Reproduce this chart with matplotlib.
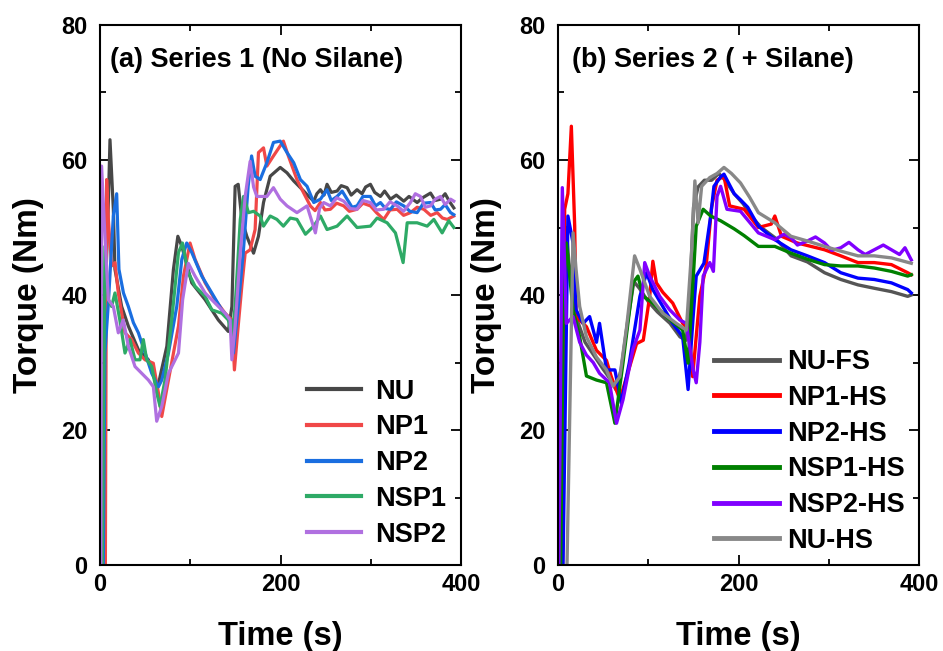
import matplotlib
matplotlib.use("Agg")
import matplotlib.pyplot as plt
from matplotlib.ticker import MultipleLocator

plt.rcParams["font.family"] = ["Liberation Sans", "DejaVu Sans"]
plt.rcParams["font.weight"] = "bold"

# ---- Series 1 (No Silane) ----
t_nu = [3, 6, 9.3, 11.1, 14.8, 16.6, 24, 31.4, 42.5, 53.6, 64, 74, 81.3, 86.2, 90.6, 101.6, 116.4, 131,
        142, 146, 149.6, 153, 157, 162.5, 170, 175.4, 181, 188.4, 199.5, 207, 214.4, 225.5, 231, 236.6, 240,
        244, 248, 251.3, 256, 262.4, 267, 273.5, 278, 284.5, 290, 294, 299.3, 304, 310.4, 315, 321.5, 328,
        336.2, 342, 351, 357, 365.8, 371, 376.9, 382, 387, 391.6]
v_nu = [0, 40, 53.7, 63, 52.7, 43.8, 38.3, 35.4, 31.9, 30.4, 26.4, 32.4, 43.8, 48.7, 47.2, 41.8, 39.3, 36.3,
        34.6, 38.3, 56.1, 56.4, 51.2, 48.7, 46.2, 48.7, 53.7, 57.6, 58.9, 58.1, 56.9, 55.4, 54.6, 53.9, 55,
        55.6, 54.8, 56.4, 55.2, 55.4, 56.2, 55.9, 54.8, 55.6, 55, 56, 56.4, 55.2, 54.6, 55.4, 54.2, 54.8,
        53.9, 54.6, 53.7, 54.4, 55.1, 54, 54.2, 55, 53.8, 52.9]

t_np1 = [6, 7.4, 9.3, 12.9, 16.6, 20.3, 27.7, 35, 42.5, 49.9, 59, 64.7, 68.4, 75.8, 86.9, 92.4, 99.7, 105.2,
         116.4, 127.4, 138.5, 146, 148.8, 153, 157, 160.7, 166.2, 171.7, 175.4, 181, 184.7, 192, 203,
         208.5, 218, 225.5, 232.8, 238, 244, 249, 255, 262, 269.8, 276, 284.5, 291, 299.3, 306, 314.1,
         321, 328.9, 336, 343.6, 351, 358.4, 366, 373.2, 379, 384.3, 391.6]
v_np1 = [0, 57.1, 51.2, 44.3, 44.8, 40.3, 34.4, 33.4, 31.4, 30.4, 29.9, 25.5, 22, 27.4, 35.4, 42.8, 47.7, 45.3,
         41.8, 39.3, 37.3, 36.3, 28.9, 35.4, 41.3, 46.2, 46.7, 49.7, 61.1, 61.8, 59.1, 60.6, 62.8,
         60.6, 57.1, 55.1, 53.2, 52.5, 53.7, 52.6, 52.7, 53.6, 53.2, 52.4, 52.7, 53.6, 53.2, 52.2, 51.2,
         52.6, 52.7, 51.8, 52.2, 53, 52.7, 51.8, 52.2, 51.4, 51.2, 51.7]

t_np2 = [3.7, 5.5, 9.3, 14.8, 18.5, 21, 26, 31.4, 37, 42.5, 50, 57.3, 64.7, 68.4, 75.8, 85, 90.6, 96, 101.6,
         112.7, 123.8, 134.8, 144, 147.7, 153, 158.6, 164, 167.8, 171.7, 177.3, 184.7, 192, 199.5, 207,
         214.4, 221.8, 229.2, 236.6, 244, 251.3, 256, 262.4, 268, 273.5, 279, 284.5, 291, 299.3, 305,
         310.4, 316, 321.5, 328, 336.2, 343, 351, 358, 365.8, 371, 376.9, 382, 388, 391.6]
v_np2 = [0, 31.4, 38.8, 51.7, 55, 43.8, 40.3, 38.3, 35.9, 34.4, 31.4, 28.4, 26.4, 27.4, 31.4, 38.3, 45.3, 47.7, 46.3,
         42.8, 40.3, 37.8, 36.3, 31.4, 38.3, 46.3, 56.1, 60.6, 57.6, 57.1, 59.6, 62.6, 62.8, 61.1,
         59.6, 57.1, 56.1, 53.7, 54.2, 55.6, 54, 54.6, 55.4, 54.2, 53, 53.2, 54.6, 54.6, 53.2,
         53.7, 52.8, 52.7, 53.8, 53.2, 52.4, 52.2, 53.6, 53.7, 52.6, 52.7, 53.4, 52.2, 51.9]

t_nsp1 = [2.6, 5.5, 9.3, 12.9, 16.6, 22, 27.7, 33.2, 38.8, 44.3, 48, 51.7, 57.3, 62.8, 66.5, 72, 79.4, 86.9,
          91.3, 97.8, 105.2, 116.4, 123.8, 134.8, 142, 146, 149.6, 155.3, 158.9, 164.4, 170, 177.3, 181,
          188.4, 195.8, 203, 210.6, 218, 227.4, 236.6, 244, 251.3, 262.4, 273.5, 284.5, 299.3, 306.7,
          317.8, 327, 335.5, 340, 351, 362.1, 369.5, 378.7, 386, 391.6]
v_nsp1 = [0, 47.2, 39.3, 38.3, 40.3, 36.3, 31.4, 33.4, 30.4, 30.4, 33.4, 30.4, 29.4, 25.5, 23.5, 27.4, 36.3, 46.3,
          47.7, 43.3, 41.3, 39.8, 37.8, 37.3, 36.3, 33.8, 38.3, 51.2, 54.6, 52.2, 52.4, 51.7, 50.2,
          51.7, 51.2, 50.2, 51.4, 51.2, 49, 50.2, 51.7, 49.7, 50.2, 51.7, 50, 50.2, 51.4,
          50.7, 49.2, 44.8, 50.7, 50.7, 50.2, 51.2, 49.2, 51, 50]

t_nsp2 = [1, 1.8, 5.5, 9.3, 14.8, 20.3, 25.8, 31.4, 38.8, 46.2, 53.6, 59.1, 62.8, 68.4, 75.8, 86.9, 91.5, 97.8,
          105.2, 116.4, 127.4, 138.5, 144, 146, 149.6, 155.3, 160.7, 166.2, 170, 173.6, 184.7, 192, 199.5,
          207, 218, 229.2, 238.4, 243, 247.6, 255, 262, 269.8, 277, 284.5, 291, 299.3, 306, 314.1, 321,
          328.9, 336, 343.6, 349, 354.7, 360, 365.8, 371, 376.9, 382, 388, 391.6]
v_nsp2 = [0, 59.1, 48.7, 39.3, 38.3, 34.4, 36.3, 32.4, 29.4, 28.4, 27.4, 26.4, 21.3, 23.5, 28.4, 31.4, 39.3, 44.7,
          42.8, 40.3, 38.8, 37.3, 36.3, 30.4, 35.4, 46.3, 54.6, 59.8, 56, 54.6, 54.6, 55.9, 54.2,
          53.2, 52.2, 53.2, 49.2, 52.8, 53.7, 53.2, 54.4, 53.9, 52.8, 52.7, 54, 53.7, 52.6, 52.7, 53.8,
          53.2, 52.4, 53.7, 55, 54.6, 53, 53.2, 54.2, 54.6, 53.4, 54.2, 53.9]

# ---- Series 2 (+ Silane) ----
t_nufs = [3, 6, 9, 12, 16, 22, 30, 40, 50, 58, 64, 70, 77, 84, 90, 100, 110, 124, 135, 142, 146, 150, 155,
          162, 170, 178, 185, 195, 205, 215, 225, 240, 258, 276, 295, 313, 332, 350, 369, 387, 391]
v_nufs = [0, 45, 50, 45, 40, 36, 33, 31, 29, 27.5, 26, 29, 36, 42, 41, 39, 37.5, 35.8, 33.8, 33.3, 40, 53, 56,
          57, 57, 58, 57, 55, 53.5, 51.5, 50, 48.5, 45.8, 44.9, 43.3, 42.3, 41.5, 41, 40.5, 39.8, 40]

t_np1hs = [5, 7.4, 11, 14.8, 18.5, 20, 31.5, 42.6, 53.7, 59, 68.5, 76, 87, 94.4, 101.5, 105, 108.9, 116, 127,
           138, 145.2, 149, 157, 164, 170, 176, 183.7, 190, 206, 221.8, 236, 240, 247.4, 265, 295, 313,
           332, 350, 369, 387, 391]
v_np1hs = [0, 52.7, 55, 65, 50.2, 36.8, 35.3, 31.8, 30.3, 27.9, 24.5, 27.9, 32.8, 33.3, 39.8, 45, 41.8, 40.4, 38.8,
           35.8, 34.8, 27.9, 39.8, 44.3, 53, 57, 57.6, 53.2, 52.7, 50, 50.5, 51.7, 48.7, 47.7, 46.7, 45.8,
           44.8, 44.8, 44.5, 43.3, 43]

t_np2hs = [5.6, 11, 16.7, 20, 27.8, 35, 42.6, 46, 53.7, 63, 70, 79, 90.7, 98, 105, 116, 127, 138, 144, 149.6,
           153, 161.5, 169, 172.6, 180, 183.7, 195, 202, 210, 221.8, 240, 257.8, 276, 295, 313, 332, 350,
           369, 387, 391]
v_np2hs = [0, 51.7, 47.7, 37.8, 35.8, 36.8, 33, 35.8, 28.9, 28.9, 24, 30, 39.8, 43.3, 40.8, 38.3, 35.8, 33.8, 26, 36.8,
           42.8, 44.7, 51.7, 56.1, 57.5, 57.9, 55, 54.1, 53, 50.2, 48.2, 46.7, 45.8, 44.8, 43.3, 42.5, 42.3,
           41.8, 40.8, 40.3]

t_nsp1hs = [3, 6, 9.3, 16.7, 24, 31.5, 42.6, 53.7, 63, 72, 83, 88.5, 94.4, 105, 120, 138, 144, 149.6, 153,
            160.7, 169, 180, 195, 206, 221.8, 240, 257.8, 276, 295, 313, 332, 350, 369, 387, 391]
v_nsp1hs = [0, 40, 47.7, 37.8, 33.8, 28, 27.4, 27, 21, 30, 41.8, 42.8, 39.8, 38.8, 36.8, 34.8, 29.9, 42.3, 50.2,
            52.7, 51.7, 51, 49.8, 48.8, 47.2, 47.2, 46.2, 45.3, 44.5, 44.3, 44.3, 44, 43.5, 42.8, 43]

t_nsp2hs = [1, 4.8, 9.3, 16.7, 24, 31.5, 39, 46, 57, 64.8, 72, 83, 90.7, 96, 101.5, 112.6, 123.7, 134.8, 142,
            149.6, 153, 157, 160.7, 168, 172, 176, 180, 187, 202, 221.8, 240, 250, 257.8, 265, 276, 285, 295,
            303, 313, 322, 332, 340, 350, 360, 369, 378, 384, 391]
v_nsp2hs = [0, 55.9, 35.8, 36.8, 33, 31.1, 30, 28.4, 27, 21, 24.5, 32, 34.8, 44.8, 42.8, 39.8, 37.8, 36.3, 35.8,
            28.9, 27, 33, 42.8, 44.8, 43.5, 54.6, 56.1, 52.7, 52.4, 49.2, 48.2, 49, 48.5, 47.4, 48, 48.6, 47.7,
            46.6, 47, 47.8, 46.7, 46, 46.7, 47.4, 46.7, 46, 47, 45.2]

t_nuhs = [10, 16.7, 20, 24, 31.5, 42.6, 53.7, 61, 68.5, 76, 84.8, 90.7, 101.5, 116, 131, 142, 148, 151.5, 155,
          159, 168, 176, 183.7, 192, 202, 212, 221.8, 240, 257.8, 276, 295, 313, 332, 350, 369, 391]
v_nuhs = [0, 49.2, 43.8, 38.3, 33.8, 30.8, 28.9, 26.5, 27.9, 35.3, 45.8, 43.8, 39.8, 37.3, 35.8, 34.8, 46.8, 56.9,
          50.7, 56.1, 57.4, 58, 58.9, 58, 56.6, 54.5, 52.2, 50.7, 48.7, 48, 47.2, 46.5, 45.8, 45.8, 45.5, 44.7]

series1 = [
    (t_nu, v_nu, "NU", "#474747"),
    (t_np1, v_np1, "NP1", "#f04848"),
    (t_np2, v_np2, "NP2", "#1a6ee0"),
    (t_nsp1, v_nsp1, "NSP1", "#2eaa66"),
    (t_nsp2, v_nsp2, "NSP2", "#b070e0"),
]
series2 = [
    (t_nufs, v_nufs, "NU-FS", "#555555"),
    (t_np1hs, v_np1hs, "NP1-HS", "#ff0000"),
    (t_np2hs, v_np2hs, "NP2-HS", "#0000ff"),
    (t_nsp1hs, v_nsp1hs, "NSP1-HS", "#008000"),
    (t_nsp2hs, v_nsp2hs, "NSP2-HS", "#8000ff"),
    (t_nuhs, v_nuhs, "NU-HS", "#888888"),
]

fig = plt.figure(figsize=(9.43, 6.51), dpi=100)
ax1 = fig.add_axes([0.106, 0.1321, 0.3833, 0.8295])
ax2 = fig.add_axes([0.5917, 0.1321, 0.3833, 0.8295])


def style_axis(ax):
    ax.set_xlim(0, 400)
    ax.set_ylim(0, 80)
    ax.xaxis.set_major_locator(MultipleLocator(200))
    ax.xaxis.set_minor_locator(MultipleLocator(100))
    ax.yaxis.set_major_locator(MultipleLocator(20))
    ax.yaxis.set_minor_locator(MultipleLocator(10))
    ax.tick_params(which="both", direction="in", top=True, right=True, width=1.3)
    ax.tick_params(which="major", length=7)
    ax.tick_params(which="minor", length=4.5)
    ax.tick_params(axis="y", which="major", labelsize=17, pad=9)
    ax.tick_params(axis="x", which="major", labelsize=17, pad=6)
    for sp in ax.spines.values():
        sp.set_linewidth(1.5)
    ax.set_xlabel("Time (s)", fontsize=23.5, fontweight="bold", labelpad=18)
    ax.set_ylabel("Torque (Nm)", fontsize=24, fontweight="bold", labelpad=12)


# draw each run
for t, v, name, col in series1:
    ax1.plot(t, v, color=col, lw=2.3, label=name)
for t, v, name, col in series2:
    ax2.plot(t, v, color=col, lw=2.4, label=name)

style_axis(ax1)
style_axis(ax2)

ax1.text(0.028, 0.935, "(a) Series 1 (No Silane)", transform=ax1.transAxes,
         fontsize=19.5, fontweight="bold", va="center", ha="left")
ax2.text(0.04, 0.935, "(b) Series 2 ( + Silane)", transform=ax2.transAxes,
         fontsize=19.5, fontweight="bold", va="center", ha="left")

leg1 = ax1.legend(loc="upper left", bbox_to_anchor=(0.5726, 0.345), frameon=False,
                  fontsize=19.5, handlelength=2.0, handletextpad=0.5, labelspacing=0.36,
                  borderpad=0, borderaxespad=0)
for ln in leg1.get_lines():
    ln.set_linewidth(3.0)

leg2 = ax2.legend(loc="upper left", bbox_to_anchor=(0.4315, 0.40), frameon=False,
                  fontsize=19.5, handlelength=2.4, handletextpad=0.3, labelspacing=0.36,
                  borderpad=0, borderaxespad=0)
for ln in leg2.get_lines():
    ln.set_linewidth(3.5)

plt.savefig("out.png", dpi=100)
